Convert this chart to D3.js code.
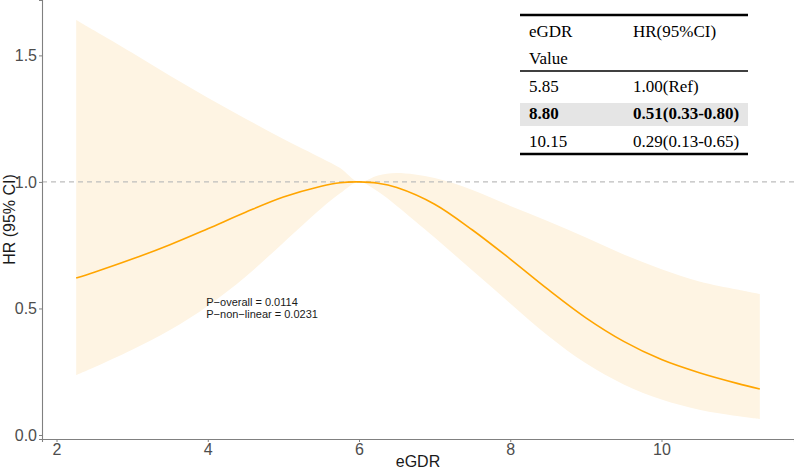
<!DOCTYPE html>
<html>
<head>
<meta charset="utf-8">
<title>eGDR restricted cubic spline</title>
<script src="https://d3js.org/d3.v7.min.js"></script>
<style>
  body { margin: 0; background: #fff; }
  svg { display: block; }
</style>
</head>
<body>
<svg id="chart"></svg>
<script>
// spline estimate
var egdr  = [2.26, 2.5, 3.0, 3.5, 4.0, 4.5, 5.0, 5.5, 5.75, 6.0, 6.25, 6.5, 7.0, 7.5, 8.0, 8.5, 9.0, 9.5, 10.0, 10.5, 11.0, 11.3];
var hr    = [0.62, 0.643, 0.695, 0.752, 0.815, 0.88, 0.94, 0.983, 0.997, 1.0, 0.995, 0.978, 0.912, 0.81, 0.695, 0.575, 0.463, 0.37, 0.298, 0.246, 0.204, 0.182];
var upper = [1.64, 1.598, 1.51, 1.42, 1.333, 1.25, 1.17, 1.095, 1.055, 1.0, 1.025, 1.035, 1.015, 0.968, 0.905, 0.845, 0.78, 0.713, 0.655, 0.607, 0.575, 0.557];
var lower = [0.237, 0.268, 0.337, 0.415, 0.51, 0.625, 0.76, 0.895, 0.955, 1.0, 0.962, 0.905, 0.78, 0.65, 0.52, 0.392, 0.283, 0.20, 0.14, 0.10, 0.075, 0.063];

var xTicks = [2, 4, 6, 8, 10];
var yTicks = [0, 0.5, 1.0, 1.5];
var refLine = 1;

var pLabels = ["P\u2212overall = 0.0114", "P\u2212non\u2212linear = 0.0231"];

var tableHead = [["eGDR", "HR(95%CI)"], ["Value", ""]];
var tableRows = [["5.85", "1.00(Ref)"], ["8.80", "0.51(0.33-0.80)"], ["10.15", "0.29(0.13-0.65)"]];
var highlightRow = 1;

var width = 794, height = 471;
var margin = {top: 0, right: 0, bottom: 32, left: 42};

var svg = d3.select("#chart").attr("width", width).attr("height", height);

var pts = egdr.map(function (d, i) { return {x: d, y: hr[i], lo: lower[i], hi: upper[i]}; });

// ggplot style 5% expansion
function expand(ext) {
  var p = (ext[1] - ext[0]) * 0.05;
  return [ext[0] - p, ext[1] + p];
}
var x = d3.scaleLinear()
  .domain(expand(d3.extent(egdr)))
  .range([margin.left, width - margin.right]);
var y = d3.scaleLinear()
  .domain(expand([d3.min(lower), d3.max(upper)]))
  .range([height - margin.bottom, margin.top]);

var curve = d3.curveCatmullRom.alpha(0.5);

// confidence band
svg.append("path")
  .datum(pts)
  .attr("fill", "#FEF4E3")
  .attr("d", d3.area()
    .curve(curve)
    .x(function (d) { return x(d.x); })
    .y0(function (d) { return y(d.lo); })
    .y1(function (d) { return y(d.hi); }));

// reference line
svg.append("line")
  .attr("x1", margin.left).attr("x2", width - margin.right)
  .attr("y1", y(refLine)).attr("y2", y(refLine))
  .attr("stroke", "#BDBDBD")
  .attr("stroke-width", 1.2)
  .attr("stroke-dasharray", "5,4");

// estimate
svg.append("path")
  .datum(pts)
  .attr("fill", "none")
  .attr("stroke", "#FFA500")
  .attr("stroke-width", 1.6)
  .attr("d", d3.line()
    .curve(curve)
    .x(function (d) { return x(d.x); })
    .y(function (d) { return y(d.y); }));

// axes
var xAxis = svg.append("g")
  .attr("transform", "translate(0," + (height - margin.bottom) + ")")
  .call(d3.axisBottom(x).tickValues(xTicks).tickFormat(d3.format("d")).tickSize(3).tickPadding(2));
var yAxis = svg.append("g")
  .attr("transform", "translate(" + margin.left + ",0)")
  .call(d3.axisLeft(y).tickValues(yTicks).tickFormat(d3.format(".1f")).tickSize(3).tickPadding(2));

[xAxis, yAxis].forEach(function (g) {
  g.select(".domain").attr("stroke", "#808080").attr("stroke-width", 1.1);
  g.selectAll(".tick line").attr("stroke", "#808080");
  g.selectAll(".tick text")
    .attr("fill", "#4D4D4D")
    .style("font-family", "'Liberation Sans', Arial, sans-serif")
    .style("font-size", "16px");
});

svg.append("text")
  .attr("x", (margin.left + width - margin.right) / 2)
  .attr("y", 467)
  .attr("text-anchor", "middle")
  .style("font-family", "'Liberation Sans', Arial, sans-serif")
  .style("font-size", "16px")
  .attr("fill", "#1A1A1A")
  .text("eGDR");

svg.append("text")
  .attr("transform", "translate(15," + ((margin.top + height - margin.bottom) / 2) + ") rotate(-90)")
  .attr("text-anchor", "middle")
  .style("font-family", "'Liberation Sans', Arial, sans-serif")
  .style("font-size", "16px")
  .attr("fill", "#1A1A1A")
  .text("HR (95% CI)");

// p values
svg.append("g").selectAll("text")
  .data(pLabels)
  .enter().append("text")
  .attr("x", x(3.98))
  .attr("y", function (d, i) { return y(0.51) + i * 12.5; })
  .style("font-family", "'Liberation Sans', Arial, sans-serif")
  .style("font-size", "11px")
  .attr("fill", "#1A1A1A")
  .text(function (d) { return d; });

// table in the top right
var tb = svg.append("g").attr("class", "table");
var tLeft = 520, tRight = 748, col2 = 633;
var rowY = [37, 64, 92, 119, 147];
var allRows = tableHead.concat(tableRows);
var serif = "'Liberation Serif', 'Times New Roman', serif";

tb.append("rect")
  .attr("x", tLeft).attr("width", tRight - tLeft)
  .attr("y", 103).attr("height", 23)
  .attr("fill", "#E5E5E5");

tb.append("line").attr("x1", tLeft).attr("x2", tRight).attr("y1", 15).attr("y2", 15)
  .attr("stroke", "#000").attr("stroke-width", 2.5);
tb.append("line").attr("x1", tLeft).attr("x2", tRight).attr("y1", 71).attr("y2", 71)
  .attr("stroke", "#000").attr("stroke-width", 1.3);
tb.append("line").attr("x1", tLeft).attr("x2", tRight).attr("y1", 154).attr("y2", 154)
  .attr("stroke", "#000").attr("stroke-width", 2.5);

allRows.forEach(function (r, i) {
  var bold = (i - tableHead.length) === highlightRow;
  [r[0], r[1]].forEach(function (t, j) {
    tb.append("text")
      .attr("x", j === 0 ? 529 : col2)
      .attr("y", rowY[i])
      .style("font-family", serif)
      .style("font-size", "17px")
      .style("font-weight", bold ? "bold" : "normal")
      .attr("fill", "#000")
      .text(t);
  });
});
</script>
</body>
</html>
